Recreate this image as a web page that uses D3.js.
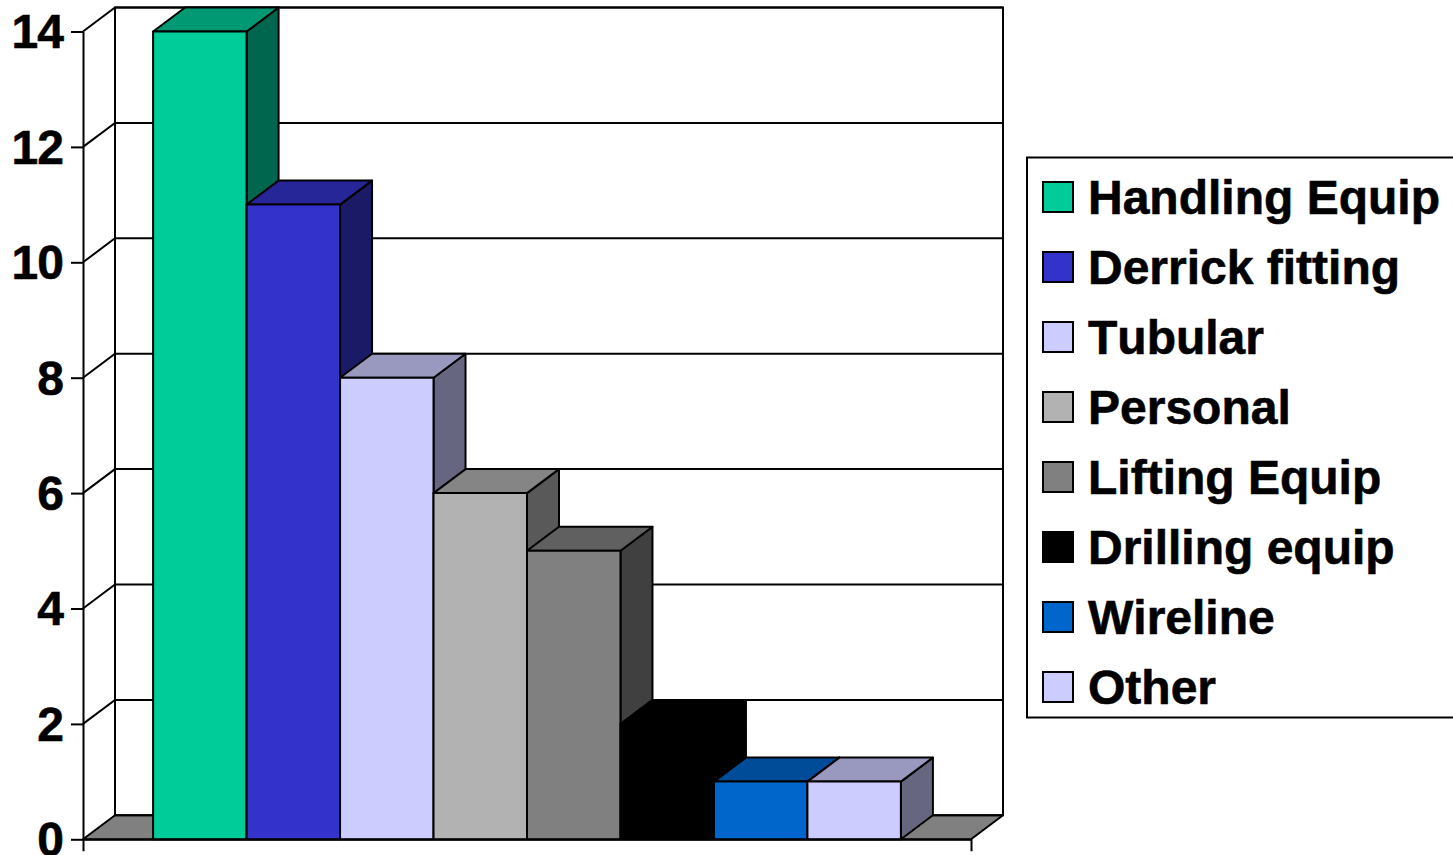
<!DOCTYPE html>
<html>
<head>
<meta charset="utf-8">
<script src="https://cdn.jsdelivr.net/npm/d3@7"></script>
<style>
  html, body { margin: 0; padding: 0; background: #fff; overflow: hidden; }
  svg { display: block; }
  text { font-kerning: none; stroke: #000; stroke-width: 0.6px; }
</style>
</head>
<body>
<svg id="chart" width="1453" height="855"></svg>
<script>
const categories = ['Handling Equip', 'Derrick fitting', 'Tubular', 'Personal', 'Lifting Equip', 'Drilling equip', 'Wireline', 'Other'];
const values = [14, 11, 8, 6, 5, 2, 1, 1];
const frontColors = ['#00CC99', '#3333CC', '#CCCCFF', '#B2B2B2', '#808080', '#000000', '#0066CC', '#CCCCFF'];
const topColors = ['#009973', '#262699', '#9999BF', '#858585', '#606060', '#000000', '#004C99', '#9999BF'];
const sideColors = ['#00664D', '#1A1A66', '#666680', '#595959', '#404040', '#000000', '#00264D', '#666680'];
const yTicks = [0, 2, 4, 6, 8, 10, 12, 14];

const FONT = '"Liberation Sans", Arial, sans-serif';
const FONT_SIZE = 48;
const STROKE = 2;
const LEFT = 83, RIGHT = 971, BASE = 839.3, TOP = 31.5;
const DX = 32, DY = -24; // depth of the 3d box

const svg = d3.select('#chart');

const x = d3.scaleBand()
  .domain(categories)
  .range([LEFT, RIGHT])
  .paddingInner(0)
  .paddingOuter(0.75);

const y = d3.scaleLinear().domain([0, 14]).range([BASE, TOP]);

const line = d3.line();
const poly = pts => line(pts) + 'Z';

// floor
svg.append('path')
  .attr('d', poly([[LEFT, y(0)], [RIGHT, y(0)], [RIGHT + DX, y(0) + DY], [LEFT + DX, y(0) + DY]]))
  .attr('fill', '#808080')
  .attr('stroke', '#000')
  .attr('stroke-width', STROKE)
  .attr('stroke-linejoin', 'round');

// back wall and side wall
svg.append('path')
  .attr('d', poly([[LEFT + DX, y(0) + DY], [LEFT + DX, y(14) + DY], [RIGHT + DX, y(14) + DY], [RIGHT + DX, y(0) + DY]]))
  .attr('fill', 'none')
  .attr('stroke', '#000')
  .attr('stroke-width', STROKE);

// gridlines run from the front axis over the side wall and along the back
svg.append('g')
  .selectAll('path')
  .data(yTicks.filter(d => d > 0))
  .join('path')
  .attr('d', d => line([[LEFT, y(d)], [LEFT + DX, y(d) + DY], [RIGHT + DX, y(d) + DY]]))
  .attr('fill', 'none')
  .attr('stroke', '#000')
  .attr('stroke-width', STROKE);

// bars, left to right so that each one covers the side of the one before
const bars = svg.append('g')
  .selectAll('g')
  .data(categories.map((name, i) => ({ name, i, value: values[i] })))
  .join('g')
  .attr('stroke', '#000')
  .attr('stroke-width', STROKE)
  .attr('stroke-linejoin', 'round');

bars.append('path')
  .attr('d', d => {
    const x1 = x(d.name) + x.bandwidth();
    return poly([[x1, y(0)], [x1 + DX, y(0) + DY], [x1 + DX, y(d.value) + DY], [x1, y(d.value)]]);
  })
  .attr('fill', d => sideColors[d.i]);

bars.append('path')
  .attr('d', d => {
    const x0 = x(d.name), x1 = x0 + x.bandwidth();
    return poly([[x0, y(d.value)], [x1, y(d.value)], [x1 + DX, y(d.value) + DY], [x0 + DX, y(d.value) + DY]]);
  })
  .attr('fill', d => topColors[d.i]);

bars.append('rect')
  .attr('x', d => x(d.name))
  .attr('y', d => y(d.value))
  .attr('width', x.bandwidth())
  .attr('height', d => y(0) - y(d.value))
  .attr('fill', d => frontColors[d.i]);

// axes
const gY = svg.append('g')
  .attr('transform', `translate(${LEFT},0)`)
  .call(d3.axisLeft(y).tickValues(yTicks).tickSize(12).tickSizeOuter(0).tickPadding(8));

const gX = svg.append('g')
  .attr('transform', `translate(0,${BASE})`)
  .call(d3.axisBottom(x).tickValues([]).tickSizeOuter(12));

[gY, gX].forEach(ax => {
  ax.select('.domain').attr('stroke', '#000').attr('stroke-width', STROKE);
  ax.selectAll('line').attr('stroke', '#000').attr('stroke-width', STROKE);
});

gY.selectAll('text')
  .attr('fill', '#000')
  .attr('font-family', FONT)
  .attr('font-size', FONT_SIZE)
  .attr('font-weight', 'bold')
  .attr('letter-spacing', -1)
  .attr('dy', '0.34em');

// legend
const legend = svg.append('g');

legend.append('rect')
  .attr('x', 1027)
  .attr('y', 157.5)
  .attr('width', 460)
  .attr('height', 560)
  .attr('fill', '#fff')
  .attr('stroke', '#000')
  .attr('stroke-width', STROKE);

const items = legend.selectAll('g.item')
  .data(categories)
  .join('g')
  .attr('class', 'item')
  .attr('transform', (_, i) => `translate(0,${197 + i * 70})`);

items.append('rect')
  .attr('x', 1043)
  .attr('y', -15)
  .attr('width', 30)
  .attr('height', 30)
  .attr('fill', (_, i) => frontColors[i])
  .attr('stroke', '#000')
  .attr('stroke-width', STROKE);

items.append('text')
  .attr('x', 1088)
  .attr('y', 17)
  .attr('fill', '#000')
  .attr('font-family', FONT)
  .attr('font-size', FONT_SIZE)
  .attr('font-weight', 'bold')
  .text(d => d);
</script>
</body>
</html>
